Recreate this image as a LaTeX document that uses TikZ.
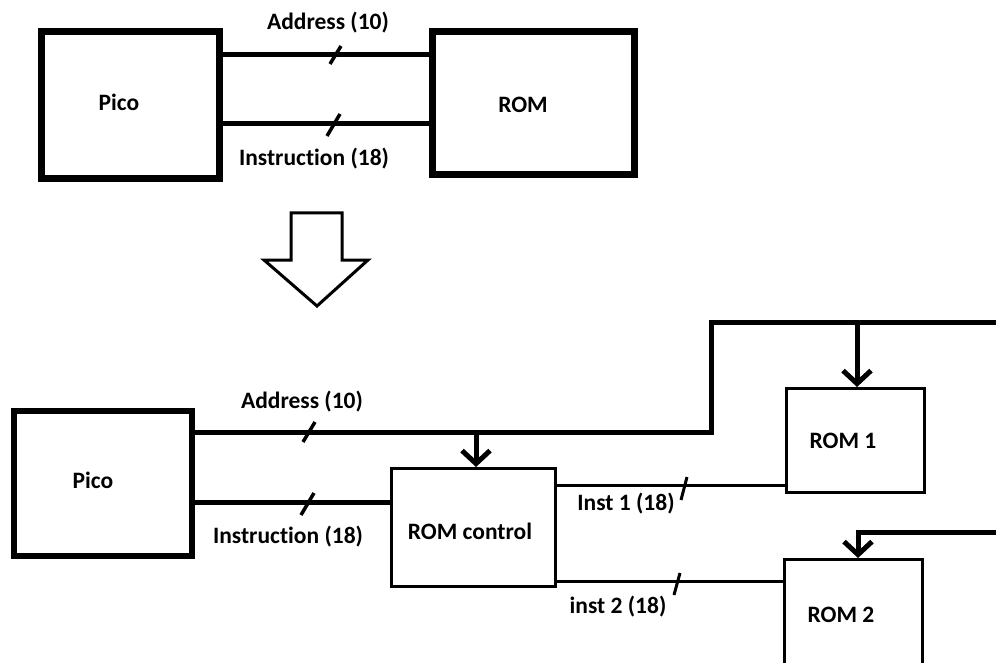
\documentclass[tikz,border=0pt]{standalone}
\usepackage{fontspec}
\setmainfont{Carlito}[Ligatures={NoCommon}]
\usetikzlibrary{arrows.meta,calc}
\begin{document}
\begin{tikzpicture}[x=1pt,y=-1pt,
  blk/.style={draw,line width=#1,inner sep=0pt},
  lbl/.style={font=\fontsize{23.5}{27}\selectfont\bfseries,inner sep=0pt},
  bus/.style={line width=5pt},
  wire/.style={line width=3pt},
  slash/.style={line width=3.5pt},
  tip/.style={-{Straight Barb[length=13pt,width=28pt]}},
  hollow/.style={line width=3pt,line join=miter}]
\useasboundingbox (0,0) rectangle (996,663);
\clip (0,0) rectangle (996,663);

% ---------- top part ----------
\node[blk=7pt,minimum width=178pt,minimum height=147pt] (picoT) at (130,105.5) {};
\node[blk=7pt,minimum width=202pt,minimum height=143pt] (romT) at (533.5,103) {};
\node[lbl] (picoTl) at (119,102) {Pico};
\node[lbl] (romTl) at (523,105) {ROM};
\coordinate (aT) at (0,55);
\coordinate (iT) at (0,124);
\draw[bus] (picoT.east |- aT) -- (romT.west |- aT);
\draw[bus] (picoT.east |- iT) -- (romT.west |- iT);
\node[lbl] (aTl) at (328,23) {Address (10)};
\node[lbl] (iTl) at (314,159) {Instruction (18)};
\draw[slash] (330,64) -- (341,46);
\draw[slash] (327,136) -- (340,114);

% ---------- big hollow arrow ----------
\draw[hollow] (291,213) -- (342,213) -- (342,260) -- (368,260) -- (317,306)
  -- (264,260) -- (291,260) -- cycle;

% ---------- bottom part ----------
\node[blk=6pt,minimum width=177.5pt,minimum height=145pt] (picoB) at (103,483.5) {};
\node[blk=3pt,minimum width=164pt,minimum height=118pt] (rc) at (473.5,527.5) {};
\node[blk=3pt,minimum width=138pt,minimum height=104pt] (rom1) at (855.5,440.5) {};
\node[blk=3pt,minimum width=138pt,minimum height=140pt] (rom2) at (853.5,629.5) {};
\node[lbl] (picoBl) at (93,480) {Pico};
\node[lbl] (rcl) at (470,531) {ROM control};
\node[lbl] (rom1l) at (843,441) {ROM 1};
\node[lbl] (rom2l) at (841,615) {ROM 2};

\coordinate (aB) at (0,432);
\coordinate (iB) at (0,502);
\coordinate (c1) at (711,432);
\coordinate (c2) at (711,322);
\coordinate (busEnd) at (1002,322);
\coordinate (t1) at (857,322);
\coordinate (t0) at (476,432);
\coordinate (b2e) at (1002,532);
\coordinate (b2c) at (858,532);
\coordinate (i1) at (0,485);
\coordinate (i2) at (0,581);

\draw[bus] (picoB.east |- aB) -- (c1) -- (c2) -- (busEnd);
\draw[bus,tip] (t1) -- (t1 |- rom1.north);
\draw[bus,tip] (t0) -- (t0 |- rc.north);
\draw[bus,tip] (b2e) -- (b2c) -- (b2c |- rom2.north);
\draw[bus] (picoB.east |- iB) -- (rc.west |- iB);
\draw[wire] (rc.east |- i1) -- (rom1.west |- i1);
\draw[wire] (rc.east |- i2) -- (rom2.west |- i2);

\node[lbl] (aBl) at (302,402) {Address (10)};
\node[lbl] (iBl) at (288,537) {Instruction (18)};
\node[lbl] (i1l) at (626,504) {Inst 1 (18)};
\node[lbl] (i2l) at (618,607) {inst 2 (18)};

\draw[slash] (303,442) -- (315,422);
\draw[slash] (301,515) -- (314,493);
\draw[wire] (681,500) -- (687,477);
\draw[wire] (674,595) -- (680,573);
\end{tikzpicture}
\end{document}
